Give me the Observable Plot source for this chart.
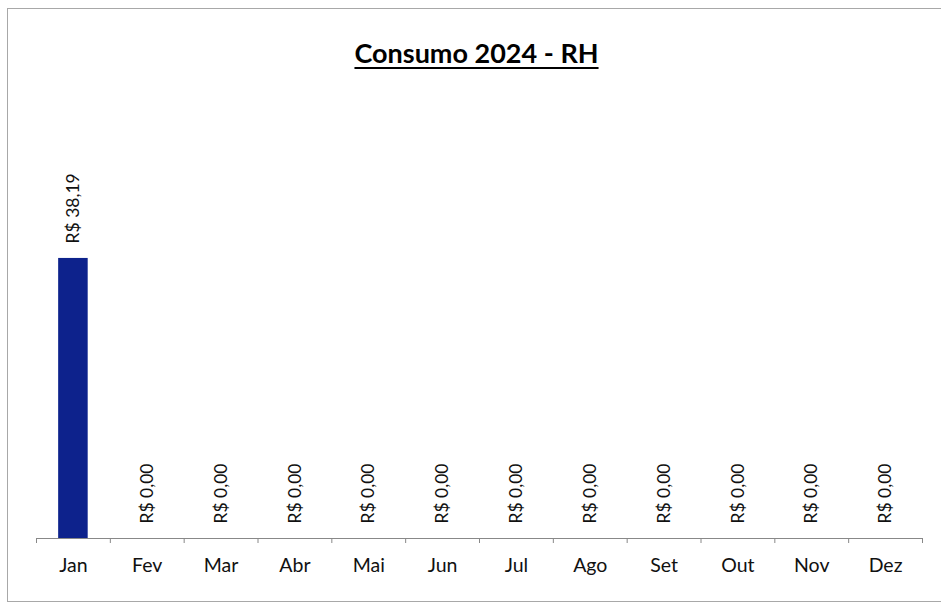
<!DOCTYPE html>
<html>
<head>
<meta charset="utf-8">
<script src="https://cdn.jsdelivr.net/npm/d3@7"></script>
<script src="https://cdn.jsdelivr.net/npm/@observablehq/plot@0.6"></script>
<style>
  html, body { margin: 0; padding: 0; background: #fff; }
  #wrap { position: relative; width: 941px; height: 607px; overflow: hidden; }
  #frame { position: absolute; left: 7px; top: 8px; width: 940px; height: 594px; border: 1px solid #a8a8a8; box-sizing: border-box; }
  #title { position: absolute; left: 0; width: 941px; top: 36px; text-align: center; padding-left: 12px; box-sizing: border-box;
           font-family: Lato, "Open Sans", sans-serif; font-weight: bold; font-size: 27px; color: #000; }
  #title span { text-decoration: underline; text-underline-offset: 4px; text-decoration-thickness: 2px; }
  #chart { position: absolute; left: 0; top: 0; }
</style>
</head>
<body>
<div id="wrap">
  <div id="frame"></div>
  <div id="title"><span>Consumo 2024 - RH</span></div>
  <div id="chart"></div>
</div>
<script>
const months = ["Jan","Fev","Mar","Abr","Mai","Jun","Jul","Ago","Set","Out","Nov","Dez"];
const values = [38.19, 0, 0, 0, 0, 0, 0, 0, 0, 0, 0, 0];
const labels = ["R$ 38,19","R$ 0,00","R$ 0,00","R$ 0,00","R$ 0,00","R$ 0,00","R$ 0,00","R$ 0,00","R$ 0,00","R$ 0,00","R$ 0,00","R$ 0,00"];

const data = months.map((m, i) => ({month: m, value: values[i], label: labels[i]}));

const W = 941, H = 607, ML = 36, MR = 19, MT = 208, MB = 69;
const step = (W - ML - MR) / months.length;

const plot = Plot.plot({
  width: W, height: H,
  marginLeft: ML, marginRight: MR, marginTop: MT, marginBottom: MB,
  style: {fontFamily: "Lato, 'Open Sans', sans-serif", background: "transparent", overflow: "visible"},
  x: {domain: months, paddingInner: 0.6, paddingOuter: 0.3, round: false, label: null},
  y: {domain: [0, 45], axis: null},
  marks: [
    Plot.barY(data, {x: "month", y: "value", fill: "#0d228c"}),
    Plot.ruleY([0], {stroke: "#888", strokeWidth: 1}),
    Plot.ruleX(data, {x: "month", y1: 0, y2: 0, insetBottom: -5, dx: -step / 2, stroke: "#888"}),
    Plot.ruleX([months[months.length - 1]], {x: d => d, y1: 0, y2: 0, insetBottom: -5, dx: step / 2, stroke: "#888"}),
    Plot.axisX({tickSize: 0, tickPadding: 20, fontSize: 19.5, fill: "#111", label: null}),
    Plot.text(data, {x: "month", y: "value", text: "label", rotate: -90, textAnchor: "start", dy: -15, fontSize: 17.5, fill: "#111"})
  ]
});
document.getElementById("chart").appendChild(plot);
</script>
</body>
</html>
